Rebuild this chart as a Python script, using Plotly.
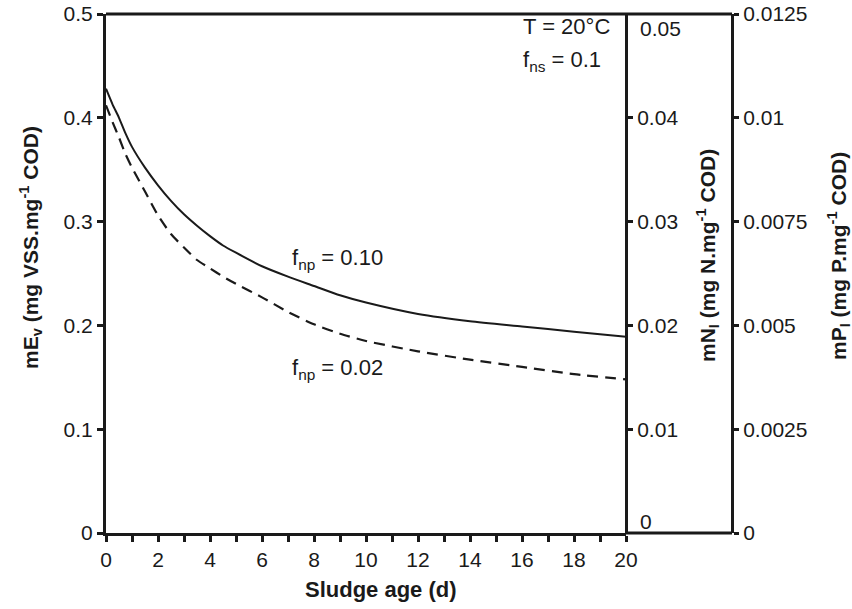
import plotly.graph_objects as go

# ---- data ----
sludge_age = [0, 0.25, 0.5, 0.75, 1, 1.5, 2, 2.5, 3, 3.5, 4, 4.5, 5, 6, 7, 8, 9, 10, 12, 14, 16, 18, 20]
mEv_fnp_010 = [0.428, 0.413, 0.400, 0.385, 0.372, 0.352, 0.335, 0.320, 0.307, 0.296, 0.286, 0.277, 0.270,
               0.257, 0.247, 0.238, 0.229, 0.222, 0.211, 0.204, 0.199, 0.194, 0.189]
mEv_fnp_002 = [0.412, 0.396, 0.381, 0.365, 0.352, 0.329, 0.306, 0.288, 0.275, 0.263, 0.255, 0.247, 0.240,
               0.227, 0.213, 0.201, 0.192, 0.185, 0.175, 0.167, 0.160, 0.153, 0.148]

x_ticks = [0, 2, 4, 6, 8, 10, 12, 14, 16, 18, 20]
y_ticks = [0, 0.1, 0.2, 0.3, 0.4, 0.5]
y_ticktext = ["0", "0.1", "0.2", "0.3", "0.4", "0.5"]
n_ticks = [0.01, 0.02, 0.03, 0.04]
n_ticktext = ["0.01", "0.02", "0.03", "0.04"]
p_ticks = [0, 0.0025, 0.005, 0.0075, 0.01, 0.0125]
p_ticktext = ["0", "0.0025", "0.005", "0.0075", "0.01", "0.0125"]

INK = "#1a1a1a"
FONT = "Liberation Sans, Arial, sans-serif"

W, H = 852, 609
L, R, T, B = 106, 100, 14, 76
PW = W - L - R
PH = H - T - B
def px(xp):  # page pixel -> paper x
    return (xp - L) / PW
def py(yp):  # page pixel -> paper y
    return (H - B - yp) / PH

x_end = px(626)
p_pos = px(732)

fig = go.Figure()
fig.add_trace(go.Scatter(x=sludge_age, y=mEv_fnp_010, mode="lines",
                         line=dict(color=INK, width=2, shape="spline", smoothing=0.6),
                         showlegend=False))
fig.add_trace(go.Scatter(x=sludge_age, y=mEv_fnp_002, mode="lines",
                         line=dict(color=INK, width=2.2, dash="11px,7px", shape="spline", smoothing=0.6),
                         showlegend=False))
# invisible traces to activate the extra axes
fig.add_trace(go.Scatter(x=[0], y=[0], yaxis="y2", mode="markers",
                         marker=dict(opacity=0), showlegend=False, hoverinfo="skip"))
fig.add_trace(go.Scatter(x=[0], y=[0], yaxis="y3", mode="markers",
                         marker=dict(opacity=0), showlegend=False, hoverinfo="skip"))

tickfont = dict(family=FONT, size=21, color=INK)

fig.update_layout(
    width=W, height=H,
    margin=dict(l=L, r=R, t=T, b=B, autoexpand=False),
    paper_bgcolor="white", plot_bgcolor="white",
    font=dict(family=FONT, color=INK),
    xaxis=dict(domain=[0, x_end], range=[0, 20], showgrid=False, zeroline=False,
               showline=True, linecolor=INK, linewidth=3,
               ticks="outside", ticklen=6, tickwidth=3, tickcolor=INK,
               tickvals=x_ticks, tickfont=tickfont,
               minor=dict(dtick=1, ticks="outside", ticklen=6, tickwidth=3, tickcolor=INK)),
    yaxis=dict(range=[0, 0.5], showgrid=False, zeroline=False,
               showline=True, linecolor=INK, linewidth=3,
               ticks="outside", ticklen=6, tickwidth=3, tickcolor=INK,
               tickvals=y_ticks, ticktext=y_ticktext, tickfont=tickfont,
               ticklabeloverflow="allow"),
    yaxis2=dict(overlaying="y", anchor="free", position=x_end, side="right",
                range=[0, 0.05], showgrid=False, zeroline=False,
                showline=True, linecolor=INK, linewidth=3,
                ticks="outside", ticklen=5, tickwidth=3, tickcolor=INK,
                tickvals=n_ticks, ticktext=n_ticktext, tickfont=tickfont),
    yaxis3=dict(overlaying="y", anchor="free", position=p_pos, side="right",
                range=[0, 0.0125], showgrid=False, zeroline=False,
                showline=True, linecolor=INK, linewidth=3,
                ticks="outside", ticklen=5, tickwidth=3, tickcolor=INK,
                tickvals=p_ticks, ticktext=p_ticktext, tickfont=tickfont,
                ticklabeloverflow="allow"),
    shapes=[
        dict(type="line", xref="paper", yref="paper", x0=0, x1=p_pos, y0=1, y1=1,
             line=dict(color=INK, width=3)),
        dict(type="line", xref="paper", yref="paper", x0=x_end, x1=p_pos, y0=0, y1=0,
             line=dict(color=INK, width=3)),
    ],
)

titlefont = dict(family=FONT, size=21, color=INK)
notefont = dict(family=FONT, size=22, color=INK)
C = dict(xanchor="center", yanchor="middle", showarrow=False)
annots = [
    dict(text="<b>Sludge age (d)</b>", xref="paper", yref="paper",
         x=px(381), y=py(590), font=dict(family=FONT, size=22, color=INK), **C),
    dict(text="<b>mE<sub>v</sub> (mg VSS.mg<sup>-1</sup> COD)</b>", xref="paper", yref="paper",
         x=px(30), y=py(248), textangle=-90, font=titlefont, **C),
    dict(text="<b>mN<sub>I</sub> (mg N.mg<sup>-1</sup> COD)</b>", xref="paper", yref="paper",
         x=px(707), y=py(256), textangle=-90, font=titlefont, **C),
    dict(text="<b>mP<sub>I</sub> (mg P.mg<sup>-1</sup> COD)</b>", xref="paper", yref="paper",
         x=px(838), y=py(256), textangle=-90, font=titlefont, **C),
    dict(text="0.05", xref="paper", yref="paper", x=px(638), y=py(28),
         xanchor="left", yanchor="middle", showarrow=False, font=tickfont),
    dict(text="0", xref="paper", yref="paper", x=px(638), y=py(521),
         xanchor="left", yanchor="middle", showarrow=False, font=tickfont),
    dict(text="T = 20°C", xref="x", yref="y", x=15.96, y=0.4875,
         xanchor="left", yanchor="middle", showarrow=False, font=notefont),
    dict(text="f<sub>ns</sub> = 0.1", xref="x", yref="y", x=15.96, y=0.455,
         xanchor="left", yanchor="middle", showarrow=False, font=notefont),
    dict(text="f<sub>np</sub> = 0.10", xref="x", yref="y", x=7.08, y=0.264,
         xanchor="left", yanchor="middle", showarrow=False, font=notefont),
    dict(text="f<sub>np</sub> = 0.02", xref="x", yref="y", x=7.08, y=0.158,
         xanchor="left", yanchor="middle", showarrow=False, font=notefont),
]
fig.update_layout(annotations=annots)

fig.write_html("out.html",
               config={"displayModeBar": False},
               post_script="document.body.style.margin='0px';document.body.style.overflow='hidden';")
